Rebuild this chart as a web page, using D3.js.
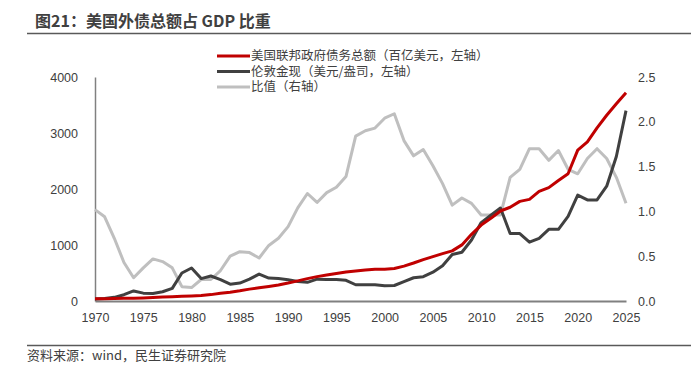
<!DOCTYPE html>
<html lang="zh">
<head>
  <meta charset="UTF-8">
  <script src="https://d3js.org/d3.v7.min.js"></script>
  <style>
    body { margin: 0; background: #fff; font-family: "Noto Sans CJK SC", "Noto Sans", sans-serif; }
    svg text { fill: #404040; }
  </style>
</head>
<body>
<div id="chart"></div>
<script>
const years = d3.range(1970, 2026);

// 美国联邦政府债务总额（百亿美元，左轴）
const federalDebt = [38, 41, 44, 47, 48, 54, 63, 71, 78, 83, 91, 99, 114, 138, 157, 182, 212, 235, 260, 286,
  321, 360, 400, 435, 464, 492, 518, 537, 553, 566, 567, 581, 623, 678, 740, 793, 845, 895, 1002, 1191,
  1356, 1476, 1607, 1674, 1779, 1815, 1957, 2024, 2152, 2272, 2694, 2843, 3093, 3317, 3522, 3720];

// 伦敦金现（美元/盎司，左轴）
const goldPrice = [35, 43, 65, 112, 180, 140, 134, 165, 226, 500, 590, 400, 446, 380, 300, 320, 390, 480, 410, 400,
  380, 350, 333, 390, 383, 385, 370, 290, 288, 290, 272, 277, 345, 415, 435, 515, 630, 830, 870, 1090,
  1400, 1530, 1660, 1205, 1205, 1050, 1120, 1280, 1280, 1510, 1890, 1805, 1805, 2050, 2580, 3400];

// 比值（右轴）
const ratio = [1.02, 0.94, 0.70, 0.43, 0.26, 0.37, 0.47, 0.44, 0.37, 0.16, 0.15, 0.24, 0.24, 0.34, 0.50, 0.55, 0.54, 0.48, 0.62, 0.70,
  0.83, 1.04, 1.20, 1.10, 1.21, 1.27, 1.39, 1.84, 1.90, 1.93, 2.04, 2.09, 1.79, 1.62, 1.69, 1.51, 1.31, 1.07, 1.15, 1.09,
  0.96, 0.96, 0.96, 1.38, 1.47, 1.70, 1.70, 1.57, 1.68, 1.47, 1.42, 1.59, 1.70, 1.59, 1.38, 1.09];

const xTicks = d3.range(1970, 2026, 5);
const leftTicks = [0, 1000, 2000, 3000, 4000];
const rightTicks = [0, 0.5, 1.0, 1.5, 2.0, 2.5];

const seriesNames = ['美国联邦政府债务总额（百亿美元，左轴）', '伦敦金现（美元/盎司，左轴）', '比值（右轴）'];
const seriesColors = ['#C00000', '#404040', '#BFBFBF'];

const W = 698, H = 365;
const svg = d3.select('#chart').append('svg').attr('width', W).attr('height', H);

// title and rules
svg.append('text').attr('x', 35).attr('y', 27)
  .style('font-size', '16px').style('font-weight', 'bold').style('fill', '#404040')
  .text('图21：美国外债总额占 GDP 比重');
svg.append('line').attr('x1', 27).attr('x2', 691).attr('y1', 33.5).attr('y2', 33.5)
  .attr('stroke', '#595959').attr('stroke-width', 1.5);
svg.append('line').attr('x1', 27).attr('x2', 691).attr('y1', 345.5).attr('y2', 345.5)
  .attr('stroke', '#595959').attr('stroke-width', 1.5);
svg.append('text').attr('x', 27).attr('y', 360)
  .style('font-size', '13px').style('fill', '#404040')
  .text('资料来源：wind，民生证券研究院');

const x = d3.scaleLinear().domain([1970, 2025]).range([95, 626]);
const yL = d3.scaleLinear().domain([0, 4000]).range([301, 77]);
const yR = d3.scaleLinear().domain([0, 2.5]).range([301, 77]);

// axes
const gx = svg.append('g').attr('transform', 'translate(0,301)')
  .call(d3.axisBottom(x).tickValues(xTicks).tickFormat(d3.format('d')).tickSize(0).tickPadding(12));
gx.select('.domain').attr('stroke', '#808080').attr('stroke-width', 2);
gx.selectAll('text').style('font-size', '12.5px').style('fill', '#404040').style('font-family', 'inherit');

const gl = svg.append('g').attr('transform', 'translate(95,0)')
  .call(d3.axisLeft(yL).tickValues(leftTicks).tickFormat(d3.format('d')).tickSize(0).tickPadding(17));
gl.select('.domain').attr('stroke', '#808080').attr('stroke-width', 1.5);
gl.selectAll('text').style('font-size', '12.5px').style('fill', '#404040').style('font-family', 'inherit');

const gr = svg.append('g').attr('transform', 'translate(626,0)')
  .call(d3.axisRight(yR).tickValues(rightTicks).tickFormat(d3.format('.1f')).tickSize(0).tickPadding(12));
gr.select('.domain').remove();
gr.selectAll('text').style('font-size', '12.5px').style('fill', '#404040').style('font-family', 'inherit');

// lines
const lineL = d3.line().x((d, i) => x(years[i])).y(d => yL(d));
const lineR = d3.line().x((d, i) => x(years[i])).y(d => yR(d));

svg.append('path').datum(ratio).attr('d', lineR)
  .attr('fill', 'none').attr('stroke', seriesColors[2]).attr('stroke-width', 3).attr('stroke-linejoin', 'round');
svg.append('path').datum(goldPrice).attr('d', lineL)
  .attr('fill', 'none').attr('stroke', seriesColors[1]).attr('stroke-width', 3).attr('stroke-linejoin', 'round');
svg.append('path').datum(federalDebt).attr('d', lineL)
  .attr('fill', 'none').attr('stroke', seriesColors[0]).attr('stroke-width', 3).attr('stroke-linejoin', 'round');

// legend
const legend = svg.append('g');
seriesNames.forEach((name, i) => {
  const yy = 56 + i * 15.5;
  legend.append('line').attr('x1', 217).attr('x2', 250).attr('y1', yy).attr('y2', yy)
    .attr('stroke', seriesColors[i]).attr('stroke-width', 3);
  legend.append('text').attr('x', 251).attr('y', yy).attr('dy', '0.35em')
    .style('font-size', '12.5px').style('fill', '#404040').text(name);
});
</script>
</body>
</html>
